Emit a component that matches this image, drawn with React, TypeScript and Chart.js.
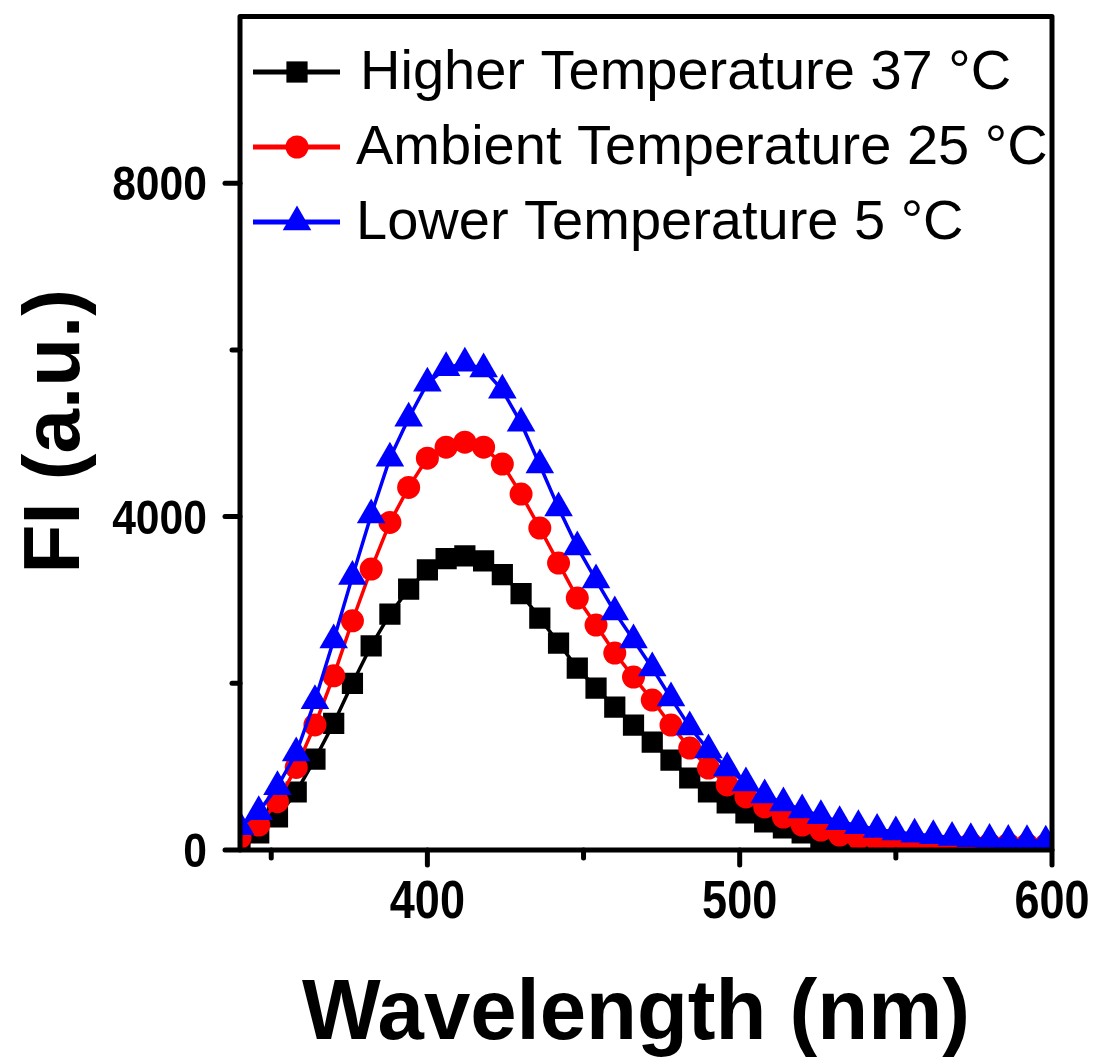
import React, { useEffect, useRef } from 'react';
import { Chart, registerables } from 'chart.js';

Chart.register(...registerables);

const wavelengths = [340, 346, 352, 358, 364, 370, 376, 382, 388, 394, 400, 406, 412, 418, 424, 430, 436, 442, 448, 454, 460, 466, 472, 478, 484, 490, 496, 502, 508, 514, 520, 526, 532, 538, 544, 550, 556, 562, 568, 574, 580, 586, 592, 598];

const higher37 = [110, 204, 396, 696, 1090, 1520, 2000, 2450, 2830, 3130, 3360, 3495, 3530, 3470, 3305, 3075, 2782, 2483, 2183, 1943, 1715, 1499, 1295, 1079, 864, 696, 564, 444, 336, 264, 204, 150, 110, 80, 60, 45, 35, 30, 25, 20, 20, 15, 15, 10];

const ambient25 = [150, 300, 580, 990, 1500, 2090, 2750, 3370, 3930, 4350, 4701, 4833, 4893, 4833, 4630, 4270, 3862, 3442, 3022, 2698, 2363, 2075, 1799, 1499, 1223, 983, 780, 636, 516, 396, 300, 240, 180, 140, 115, 100, 90, 85, 80, 75, 70, 70, 65, 60];

const lower5 = [280, 460, 760, 1163, 1790, 2520, 3280, 4020, 4701, 5181, 5601, 5785, 5840, 5770, 5517, 5121, 4620, 4102, 3634, 3238, 2854, 2519, 2183, 1823, 1475, 1199, 983, 804, 660, 564, 480, 410, 340, 290, 245, 215, 190, 170, 150, 135, 125, 115, 110, 105];

const seriesLabels = ['Higher Temperature 37 °C', 'Ambient Temperature 25 °C', 'Lower Temperature 5 °C'];
const seriesColors = ['#000000', '#ff0000', '#0000ff'];
const seriesStyles = ['rect', 'circle', 'triangle'];
const seriesRadius = [15, 11.5, 16.5];

const xTickValues = [350, 400, 450, 500, 550, 600];
const xTickLabels = ['', '400', '', '500', '', '600'];
const yTickValues = [0, 2000, 4000, 6000, 8000];
const yTickLabels = ['0', '', '4000', '', '8000'];
const xTitle = 'Wavelength (nm)';
const yTitle = 'FI (a.u.)';

const SANS = '"Liberation Sans", Arial, Helvetica, sans-serif';

function drawMarker(ctx: CanvasRenderingContext2D, style: string, x: number, y: number, r: number, color: string) {
  ctx.save();
  ctx.fillStyle = color;
  ctx.beginPath();
  if (style === 'rect') {
    const s = r * Math.SQRT1_2;
    ctx.rect(x - s, y - s, 2 * s, 2 * s);
  } else if (style === 'circle') {
    ctx.arc(x, y, r, 0, Math.PI * 2);
  } else {
    let rad = 0;
    ctx.moveTo(x + Math.sin(rad) * r, y - Math.cos(rad) * r);
    rad += (2 * Math.PI) / 3;
    ctx.lineTo(x + Math.sin(rad) * r, y - Math.cos(rad) * r);
    rad += (2 * Math.PI) / 3;
    ctx.lineTo(x + Math.sin(rad) * r, y - Math.cos(rad) * r);
    ctx.closePath();
  }
  ctx.fill();
  ctx.restore();
}

function condensedText(ctx: CanvasRenderingContext2D, text: string, x: number, y: number, align: 'left' | 'right' | 'center', sx: number) {
  ctx.save();
  ctx.translate(x, y);
  ctx.scale(sx, 1);
  ctx.textAlign = align;
  ctx.textBaseline = 'alphabetic';
  ctx.fillText(text, 0, 0);
  ctx.restore();
}

const framePlugin = {
  id: 'framePlugin',
  afterDatasetsDraw(chart: any) {
    const { ctx, chartArea } = chart;
    const { left, right, top, bottom } = chartArea;
    const xs = chart.scales.x;
    const ys = chart.scales.y;
    ctx.save();
    ctx.strokeStyle = '#000';
    ctx.fillStyle = '#000';
    ctx.lineWidth = 5;
    ctx.lineJoin = 'round';
    ctx.lineCap = 'round';
    ctx.strokeRect(left, top, right - left, bottom - top);
    ctx.font = 'bold 53px ' + SANS;
    xTickValues.forEach((v, i) => {
      const px = xs.getPixelForValue(v);
      const len = xTickLabels[i] ? 15 : 8;
      ctx.beginPath();
      ctx.moveTo(px, bottom);
      ctx.lineTo(px, bottom + len);
      ctx.stroke();
      if (xTickLabels[i]) condensedText(ctx, xTickLabels[i], px, bottom + 68, 'center', 0.85);
    });
    ctx.font = 'bold 49px ' + SANS;
    yTickValues.forEach((v, i) => {
      const py = ys.getPixelForValue(v);
      const len = yTickLabels[i] ? 15 : 8;
      ctx.beginPath();
      ctx.moveTo(left, py);
      ctx.lineTo(left - len, py);
      ctx.stroke();
      if (yTickLabels[i]) condensedText(ctx, yTickLabels[i], left - 33, py + 17, 'right', 0.87);
    });
    // axis titles
    ctx.font = 'bold 85px ' + SANS;
    condensedText(ctx, xTitle, left + (right - left) / 2 - 10, 1039, 'center', 0.98);
    ctx.save();
    ctx.translate(79, (top + bottom) / 2 - 2);
    ctx.rotate(-Math.PI / 2);
    ctx.font = 'bold 80px ' + SANS;
    ctx.textAlign = 'center';
    ctx.textBaseline = 'alphabetic';
    ctx.fillText(yTitle, 0, 0);
    ctx.restore();
    ctx.restore();
  },
  afterDraw(chart: any) {
    const { ctx } = chart;
    const rows = [72, 147, 222];
    ctx.save();
    rows.forEach((ry, i) => {
      ctx.strokeStyle = seriesColors[i];
      ctx.lineWidth = 5;
      ctx.lineCap = 'butt';
      ctx.beginPath();
      ctx.moveTo(253, ry);
      ctx.lineTo(340, ry);
      ctx.stroke();
      drawMarker(ctx, seriesStyles[i], 297, ry, seriesRadius[i], seriesColors[i]);
      ctx.fillStyle = '#000';
      ctx.font = '56px ' + SANS;
      ctx.textAlign = 'left';
      ctx.textBaseline = 'middle';
      ctx.fillText(seriesLabels[i], i === 0 ? 360 : 356, ry + 2);
    });
    ctx.restore();
  },
};

const zeroPad = (s: any) => {
  s.paddingTop = 0;
  s.paddingBottom = 0;
  s.paddingLeft = 0;
  s.paddingRight = 0;
};

export default function App() {
  const canvasRef = useRef<HTMLCanvasElement | null>(null);

  useEffect(() => {
    const canvas = canvasRef.current;
    if (!canvas) return;
    const seriesValues = [higher37, ambient25, lower5];
    const orders = [3, 2, 1];
    const chart = new Chart(canvas, {
      type: 'line',
      data: {
        datasets: seriesValues.map((vals, i) => ({
          label: seriesLabels[i],
          data: wavelengths.map((x, j) => ({ x, y: vals[j] })),
          borderColor: seriesColors[i],
          backgroundColor: seriesColors[i],
          borderWidth: 3.5,
          pointStyle: seriesStyles[i] as any,
          pointRadius: seriesRadius[i],
          pointBorderWidth: 0,
          pointHoverRadius: seriesRadius[i],
          tension: 0,
          order: orders[i],
        })),
      },
      options: {
        animation: false,
        responsive: false,
        devicePixelRatio: 1,
        events: [],
        layout: { padding: { top: 15, right: 43, left: 0, bottom: 0 } },
        plugins: { legend: { display: false }, tooltip: { enabled: false } },
        scales: {
          x: {
            type: 'linear',
            min: 340,
            max: 600,
            afterBuildTicks: (s: any) => {
              s.ticks = xTickValues.map((v) => ({ value: v }));
            },
            afterFit: (s: any) => {
              s.height = 207;
              zeroPad(s);
            },
            grid: { display: false, drawTicks: false },
            border: { display: false },
            ticks: { display: false },
            title: { display: false, text: xTitle },
          },
          y: {
            type: 'linear',
            min: 0,
            max: 10000,
            afterBuildTicks: (s: any) => {
              s.ticks = yTickValues.map((v) => ({ value: v }));
            },
            afterFit: (s: any) => {
              s.width = 240;
              zeroPad(s);
            },
            grid: { display: false, drawTicks: false },
            border: { display: false },
            ticks: { display: false },
            title: { display: false, text: yTitle },
          },
        },
      },
      plugins: [framePlugin],
    });
    return () => chart.destroy();
  }, []);

  return (
    <div style={{ position: 'fixed', left: 0, top: 0, width: 1095, height: 1057, background: '#fff' }}>
      <canvas ref={canvasRef} width={1095} height={1057} style={{ display: 'block', width: 1095, height: 1057 }} />
    </div>
  );
}
